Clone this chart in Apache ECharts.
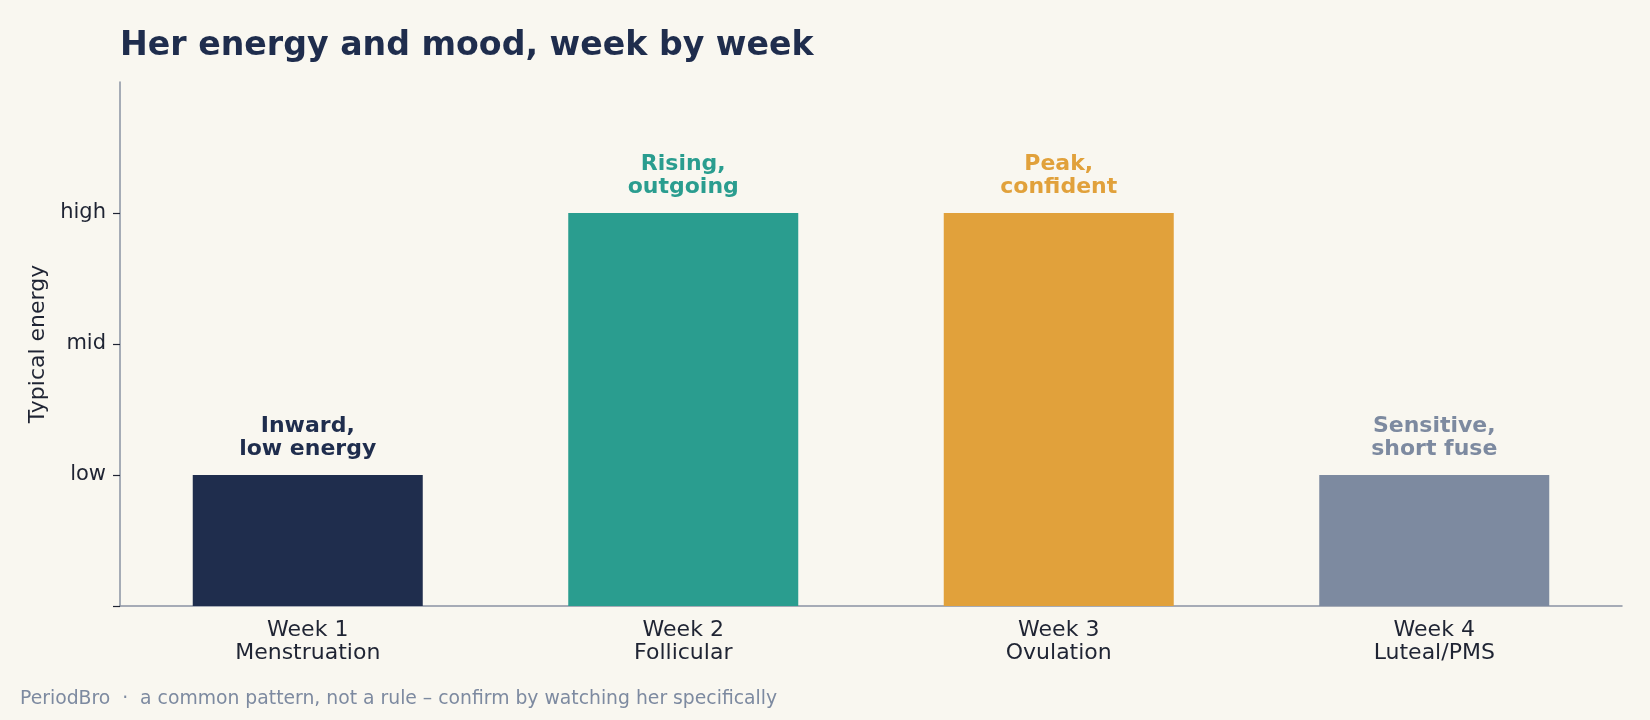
<!DOCTYPE html>
<html>
<head>
<meta charset="utf-8">
<script src="https://cdn.jsdelivr.net/npm/echarts@6/dist/echarts.min.js"></script>
<style>
  html, body { margin: 0; padding: 0; background: #f9f7f0; }
  #charts { width: 1650px; height: 720px; }
</style>
</head>
<body>
<div id="charts"></div>
<script>
// data
var weeks = ['Week 1\nMenstruation', 'Week 2\nFollicular', 'Week 3\nOvulation', 'Week 4\nLuteal/PMS'];
var energy = [1, 3, 3, 1];
var moods = ['Inward,\nlow energy', 'Rising,\noutgoing', 'Peak,\nconfident', 'Sensitive,\nshort fuse'];
var barColors = ['#1f2d4d', '#2a9d8f', '#e1a13b', '#7d8aa0'];
var levelNames = { 1: 'low', 2: 'mid', 3: 'high' };

var font = 'DejaVu Sans';
var chartDom = document.getElementById('charts');
var myChart = echarts.init(chartDom, null, { renderer: 'canvas' });

var option = {
  backgroundColor: '#f9f7f0',
  animation: false,
  title: {
    text: 'Her energy and mood, week by week',
    left: 115,
    top: 25,
    textStyle: { fontFamily: font, fontSize: 33.2, fontWeight: 'bold', color: '#1f2d4d' }
  },
  graphic: [{
    type: 'text',
    left: 20,
    top: 690,
    style: {
      text: 'PeriodBro  \u00b7  a common pattern, not a rule \u2013 confirm by watching her specifically',
      fontFamily: font, fontSize: 18.8, fill: '#7d8aa0'
    }
  }],
  grid: { left: 120, right: 28, top: 82, bottom: 114 },
  xAxis: {
    type: 'category',
    data: weeks,
    axisLine: { lineStyle: { color: '#8a93a3', width: 1.5 } },
    axisTick: { alignWithLabel: true, length: 7, lineStyle: { color: '#1f2433', width: 1.2 } },
    axisLabel: { fontFamily: font, fontSize: 22, color: '#1f2433', lineHeight: 23, margin: 13 }
  },
  yAxis: {
    type: 'value',
    min: 0,
    max: 4,
    interval: 1,
    name: 'Typical energy',
    nameLocation: 'middle',
    nameGap: 69,
    nameTextStyle: { fontFamily: font, fontSize: 22, color: '#1f2433' },
    splitLine: { show: false },
    axisLine: { show: true, lineStyle: { color: '#8a93a3', width: 1.5 } },
    axisTick: { show: true, length: 7, customValues: [0, 1, 2, 3], lineStyle: { color: '#1f2433', width: 1.2 } },
    axisLabel: {
      fontFamily: font, fontSize: 21, color: '#1f2433', margin: 14,
      customValues: [1, 2, 3],
      formatter: function (v) { return levelNames[v] || ''; }
    }
  },
  series: [{
    type: 'bar',
    barWidth: 230,
    data: energy.map(function (v, i) {
      return {
        value: v,
        itemStyle: { color: barColors[i] },
        label: {
          show: true,
          position: 'top',
          distance: 14,
          formatter: moods[i],
          fontFamily: font,
          fontSize: 22,
          fontWeight: 'bold',
          lineHeight: 23,
          align: 'center',
          color: barColors[i]
        }
      };
    })
  }]
};
option && myChart.setOption(option);
</script>
</body>
</html>
